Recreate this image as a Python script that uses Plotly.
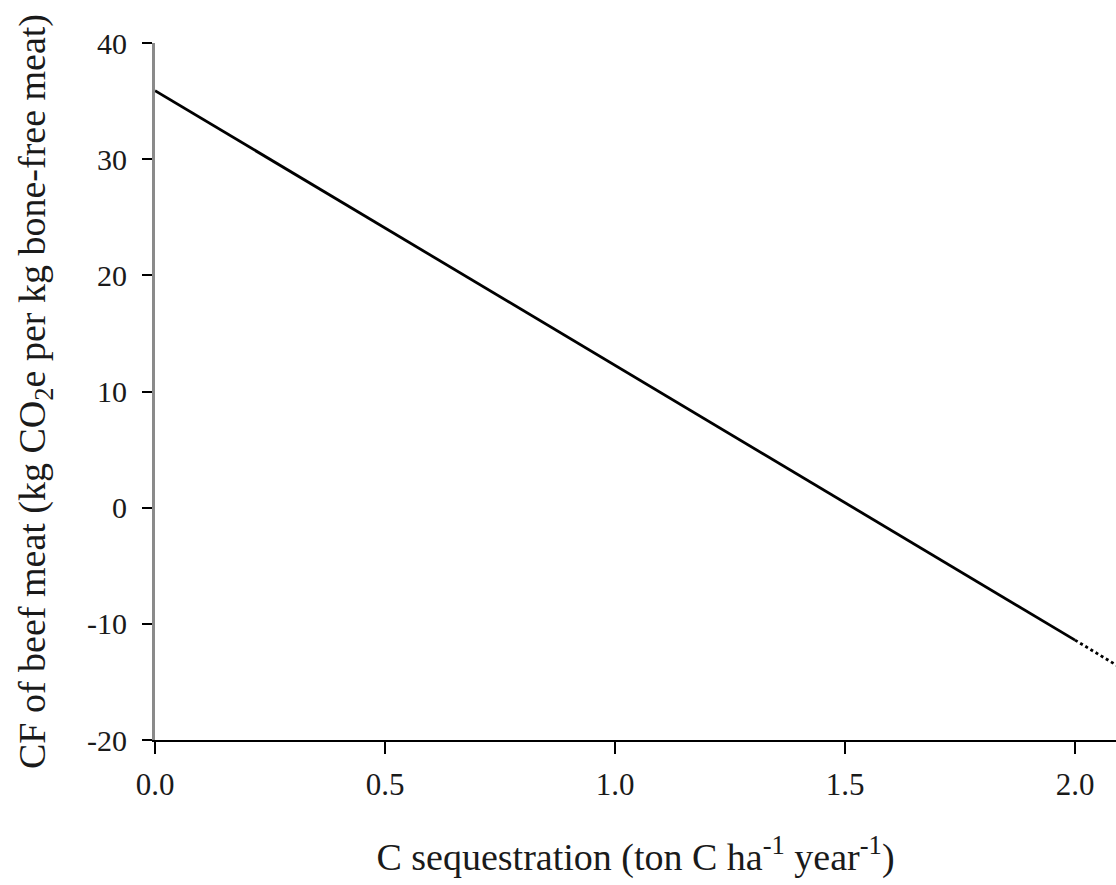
import plotly.graph_objects as go

# Data
seq_solid = [0.0, 2.0]
cf_solid = [35.9, -11.4]
seq_dotted = [2.0, 2.1]
cf_dotted = [-11.4, -13.8]

x_ticks = [0.0, 0.5, 1.0, 1.5, 2.0]
x_ticklabels = ["0.0", "0.5", "1.0", "1.5", "2.0"]
y_ticks = [-20, -10, 0, 10, 20, 30, 40]
y_ticklabels = ["-20", "-10", "0", "10", "20", "30", "40"]

FONT = "Liberation Serif, Times New Roman, serif"

fig = go.Figure()
fig.add_trace(go.Scatter(x=seq_solid, y=cf_solid, mode="lines",
                         line=dict(color="black", width=2.8), showlegend=False))
fig.add_trace(go.Scatter(x=seq_dotted, y=cf_dotted, mode="lines",
                         line=dict(color="black", width=2.8, dash="dot"), showlegend=False))

fig.update_layout(
    width=1116, height=885,
    margin=dict(l=155, r=0, t=43, b=145),
    paper_bgcolor="white", plot_bgcolor="white",
    font=dict(family=FONT, size=31, color="#1a1a1a"),
    xaxis=dict(
        range=[0, 2.089], tickvals=x_ticks, ticktext=x_ticklabels,
        showgrid=False, zeroline=False,
        showline=True, linecolor="black", linewidth=2,
        ticks="outside", ticklen=12, tickwidth=2, tickcolor="black",
        tickfont=dict(family=FONT, size=31),
        ticklabelstandoff=4,
        title=dict(text="C sequestration (ton C ha<sup>-1</sup> year<sup>-1</sup>)",
                   font=dict(family=FONT, size=38), standoff=42),
    ),
    yaxis=dict(
        range=[-20, 40], tickvals=y_ticks, ticktext=y_ticklabels,
        showgrid=False, zeroline=False,
        showline=True, linecolor="#8a8a8a", linewidth=3,
        ticks="outside", ticklen=10, tickwidth=2, tickcolor="black",
        tickfont=dict(family=FONT, size=30),
        ticklabelstandoff=9,
        title=dict(text="CF of beef meat (kg CO<sub>2</sub>e per kg bone-free meat)",
                   font=dict(family=FONT, size=38), standoff=30),
    ),
)

fig.write_html("out.html")
